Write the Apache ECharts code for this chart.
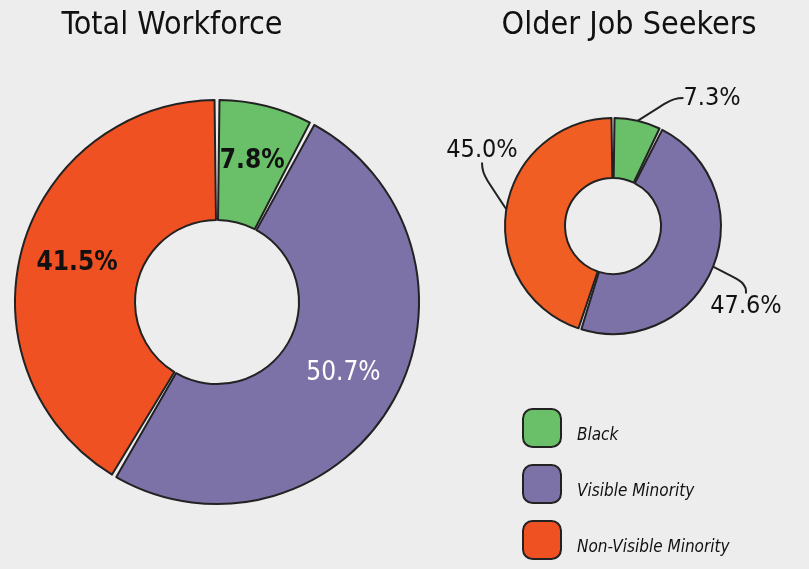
<!DOCTYPE html>
<html>
<head>
<meta charset="utf-8">
<script src="https://cdn.jsdelivr.net/npm/echarts@6/dist/echarts.min.js"></script>
<style>
  html, body { margin: 0; padding: 0; background: #ededed; }
  #chart { width: 809px; height: 569px; }
</style>
</head>
<body>
<div id="chart"></div>
<script>
// data
const categories = ['Black', 'Visible Minority', 'Non-Visible Minority'];
const totalWorkforce = [7.8, 50.7, 41.5];
const olderJobSeekers = [7.3, 47.6, 45.0];
const chartTitles = ['Total Workforce', 'Older Job Seekers'];

const colorsLeft = ['#6abf69', '#7d72a8', '#f05123'];
const colorsRight = ['#6abf69', '#7d72a8', '#f15e24'];
const font = '"Liberation Sans Narrow", "DejaVu Sans Condensed", sans-serif';

// where the outside labels of the small donut sit (label anchors only)
const rightLabelSpots = [[712, 98], [746, 306], [482, 150]];

let el = document.getElementById('chart');
let myChart = echarts.init(el);

function toData(values, colors) {
  return values.map((v, i) => ({
    name: categories[i],
    value: v,
    itemStyle: { color: colors[i] }
  }));
}

let option = {
  backgroundColor: '#ededed',
  animation: false,
  title: [
    {
      text: chartTitles[0], left: 167, top: 5, textAlign: 'center',
      textStyle: { fontFamily: font, fontSize: 32, fontWeight: 'normal', color: '#111' }
    },
    {
      text: chartTitles[1], left: 624, top: 5, textAlign: 'center',
      textStyle: { fontFamily: font, fontSize: 32, fontWeight: 'normal', color: '#111' }
    }
  ],
  legend: {
    orient: 'vertical',
    left: 517,
    top: 403,
    width: 280,
    height: 170,
    icon: 'roundRect',
    itemWidth: 38,
    itemHeight: 38,
    itemGap: 16,
    data: categories,
    itemStyle: { borderColor: '#222', borderWidth: 2 },
    formatter: name => '{t|' + name + '}',
    textStyle: {
      fontFamily: font, fontStyle: 'italic', fontSize: 17, color: '#111',
      rich: {
        t: { fontFamily: font, fontStyle: 'italic', fontSize: 17, color: '#111', padding: [16, 0, 0, 11] }
      }
    }
  },
  series: [
    {
      name: chartTitles[0],
      type: 'pie',
      center: [217, 302],
      radius: [82, 202],
      startAngle: 90,
      padAngle: 1.4,
      itemStyle: { borderColor: '#222', borderWidth: 2 },
      label: {
        show: true,
        position: 'inside',
        fontFamily: font,
        fontSize: 26,
        fontWeight: 'bold',
        color: '#111',
        formatter: p => p.value.toFixed(1) + '%'
      },
      labelLine: { show: false },
      data: toData(totalWorkforce, colorsLeft).map((d, i) =>
        i === 1 ? Object.assign(d, { label: { color: '#fff', fontWeight: 'normal' } }) : d)
    },
    {
      name: chartTitles[1],
      type: 'pie',
      center: [613, 226],
      radius: [48, 108],
      startAngle: 90,
      padAngle: 1.6,
      itemStyle: { borderColor: '#222', borderWidth: 2 },
      label: {
        show: true,
        position: 'outside',
        fontFamily: font,
        fontSize: 25,
        color: '#111',
        overflow: 'none',
        formatter: p => p.value.toFixed(1) + '%'
      },
      labelLine: {
        show: true,
        length: 14,
        length2: 10,
        smooth: 0.5,
        lineStyle: { color: '#222', width: 2 }
      },
      labelLayout: p => ({
        x: rightLabelSpots[p.dataIndex][0],
        y: rightLabelSpots[p.dataIndex][1],
        align: 'center',
        verticalAlign: 'middle'
      }),
      data: toData(olderJobSeekers, colorsRight)
    }
  ]
};

myChart.setOption(option);
</script>
</body>
</html>
